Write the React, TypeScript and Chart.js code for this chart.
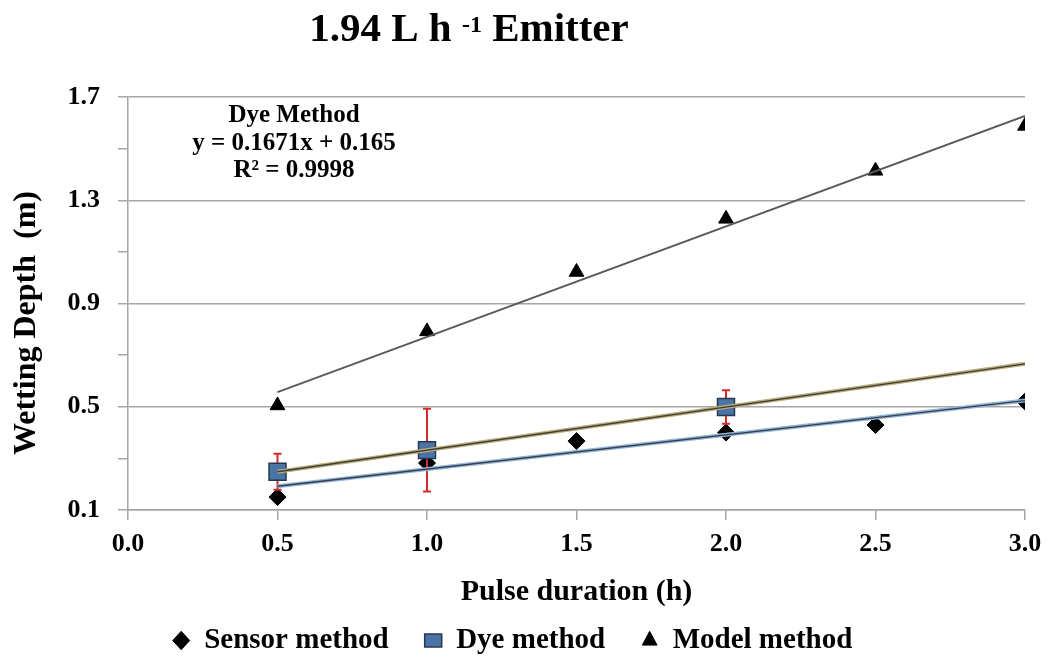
import React, { useEffect, useRef } from "react";
import { Chart, registerables } from "chart.js";

Chart.register(...registerables);

const FONT = "'Liberation Serif', 'Times New Roman', Times, serif";

// ---- Text ----
const titleMain = "1.94 L h ";
const titleSup = "-1";
const titleEnd = " Emitter";
const xAxisTitle = "Pulse duration (h)";
const yAxisTitle = "Wetting Depth  (m)";
const annotationLines = ["Dye Method", "y = 0.1671x + 0.165", "R\u00B2 = 0.9998"];
const legendLabels = ["Sensor method", "Dye method", "Model method"];

// ---- Axes ----
const xMin = 0;
const xMax = 3.0;
const xStep = 0.5;
const yMin = 0.1;
const yMax = 1.7;
const yMinorStep = 0.1;
const yMajorTicks = [0.1, 0.5, 0.9, 1.3, 1.7];

// ---- Data ----
const pulseHours = [0.5, 1.0, 1.5, 2.0, 2.5, 3.0];
const sensorDepth = [0.15, 0.282, 0.367, 0.4, 0.429, 0.52];
const modelDepth = [0.505, 0.792, 1.022, 1.228, 1.414, 1.588];
const dyeHours = [0.5, 1.0, 2.0];
const dyeDepth = [0.248, 0.332, 0.499];
const dyeError = [0.07, 0.16, 0.065];
const trendEnd = 3.0;

function linReg(xs: number[], ys: number[]) {
  const n = xs.length;
  const mx = xs.reduce((a, b) => a + b, 0) / n;
  const my = ys.reduce((a, b) => a + b, 0) / n;
  let sxy = 0;
  let sxx = 0;
  for (let i = 0; i < n; i++) {
    sxy += (xs[i] - mx) * (ys[i] - my);
    sxx += (xs[i] - mx) * (xs[i] - mx);
  }
  const m = sxy / sxx;
  return { m, b: my - m * mx };
}

function trendPoints(xs: number[], ys: number[]) {
  const { m, b } = linReg(xs, ys);
  return [
    { x: xs[0], y: m * xs[0] + b },
    { x: trendEnd, y: m * trendEnd + b },
  ];
}

const DYE_INDEX = 1;

const errorBarPlugin = {
  id: "errorBars",
  beforeDatasetDraw(chart: any, args: any) {
    if (args.index !== DYE_INDEX) return;
    const { ctx } = chart;
    const x = chart.scales.x;
    const y = chart.scales.y;
    ctx.save();
    ctx.strokeStyle = "#d42a2a";
    ctx.lineWidth = 2;
    dyeHours.forEach((h, i) => {
      const px = x.getPixelForValue(h);
      const top = y.getPixelForValue(dyeDepth[i] + dyeError[i]);
      const bot = y.getPixelForValue(dyeDepth[i] - dyeError[i]);
      ctx.beginPath();
      ctx.moveTo(px, top);
      ctx.lineTo(px, bot);
      ctx.moveTo(px - 4, top);
      ctx.lineTo(px + 4, top);
      ctx.moveTo(px - 4, bot);
      ctx.lineTo(px + 4, bot);
      ctx.stroke();
    });
    ctx.restore();
  },
};

const textPlugin = {
  id: "texts",
  afterDraw(chart: any) {
    const { ctx } = chart;
    ctx.save();
    ctx.fillStyle = "#000";
    ctx.textBaseline = "alphabetic";
    ctx.textAlign = "left";
    // title with superscript
    const big = `bold 41px ${FONT}`;
    const small = `bold 24px ${FONT}`;
    ctx.font = big;
    const w1 = ctx.measureText(titleMain).width;
    const w3 = ctx.measureText(titleEnd).width;
    ctx.font = small;
    const w2 = ctx.measureText(titleSup).width;
    let sx = 469 - (w1 + w2 + w3) / 2;
    ctx.font = big;
    ctx.fillText(titleMain, sx, 41);
    sx += w1;
    ctx.font = small;
    ctx.fillText(titleSup, sx, 32);
    sx += w2;
    ctx.font = big;
    ctx.fillText(titleEnd, sx, 41);
    // annotation
    ctx.font = `bold 25px ${FONT}`;
    ctx.textAlign = "center";
    const baselines = [122, 149.5, 177];
    annotationLines.forEach((t, i) => ctx.fillText(t, 294, baselines[i]));
    // y axis title
    ctx.font = `bold 32px ${FONT}`;
    ctx.textBaseline = "middle";
    ctx.translate(27, 323);
    ctx.rotate(-Math.PI / 2);
    ctx.fillText(yAxisTitle, 0, 0);
    ctx.restore();
  },
};

const GRID = "#a6a6a6";

export default function App() {
  const canvasRef = useRef<HTMLCanvasElement | null>(null);

  useEffect(() => {
    if (!canvasRef.current) return;
    const sensorTrend = trendPoints(pulseHours, sensorDepth);
    const dyeTrend = trendPoints(dyeHours, dyeDepth);
    const modelTrend = trendPoints(pulseHours, modelDepth);

    const chart = new Chart(canvasRef.current, {
      type: "scatter",
      data: {
        datasets: [
          {
            label: legendLabels[0],
            data: pulseHours.map((x, i) => ({ x, y: sensorDepth[i] })),
            pointStyle: "rectRot",
            pointRadius: 8.5,
            backgroundColor: "#000",
            borderColor: "#000",
            borderWidth: 1,
            order: 6,
          },
          {
            label: legendLabels[1],
            data: dyeHours.map((x, i) => ({ x, y: dyeDepth[i] })),
            pointStyle: "rect",
            pointRadius: 12,
            backgroundColor: "#4a73a6",
            borderColor: "#26384f",
            borderWidth: 1.5,
            order: 5,
          },
          {
            label: legendLabels[2],
            data: pulseHours.map((x, i) => ({ x, y: modelDepth[i] })),
            pointStyle: "triangle",
            pointRadius: 8.5,
            backgroundColor: "#000",
            borderColor: "#000",
            borderWidth: 1,
            order: 7,
          },
          {
            label: "",
            data: modelTrend,
            showLine: true,
            pointRadius: 0,
            borderColor: "#5a5a5a",
            borderWidth: 2,
            order: 4,
          },
          {
            label: "",
            data: sensorTrend,
            showLine: true,
            pointRadius: 0,
            borderColor: "#8db6e3",
            borderWidth: 4,
            order: 3,
          },
          {
            label: "",
            data: sensorTrend,
            showLine: true,
            pointRadius: 0,
            borderColor: "#3c3c3c",
            borderWidth: 1.3,
            order: 2,
          },
          {
            label: "",
            data: dyeTrend,
            showLine: true,
            pointRadius: 0,
            borderColor: "#bcad78",
            borderWidth: 4,
            order: 1,
          },
          {
            label: "",
            data: dyeTrend,
            showLine: true,
            pointRadius: 0,
            borderColor: "#3c3c3c",
            borderWidth: 1.3,
            order: 0,
          },
        ],
      },
      options: {
        animation: false,
        responsive: true,
        maintainAspectRatio: false,
        events: [],
        layout: { padding: { top: 97, left: 0, right: 27, bottom: -3 } },
        scales: {
          x: {
            type: "linear",
            min: xMin,
            max: xMax,
            afterFit: (s: any) => {
              s.height = 80;
            },
            ticks: {
              stepSize: xStep,
              padding: 9,
              color: "#000",
              font: { family: FONT, size: 26, weight: "bold" },
              callback: (v: any) => Number(v).toFixed(1),
            },
            grid: {
              drawOnChartArea: false,
              drawTicks: true,
              tickLength: 10,
              color: GRID,
              tickColor: GRID,
              lineWidth: 1.5,
            },
            border: { display: true, color: GRID, width: 1.5 },
            title: {
              display: true,
              text: xAxisTitle,
              color: "#000",
              font: { family: FONT, size: 30, weight: "bold" },
              padding: { top: 0, bottom: -20 },
            },
          },
          y: {
            type: "linear",
            min: yMin,
            max: yMax,
            afterFit: (s: any) => {
              s.width = 128;
            },
            ticks: {
              stepSize: yMinorStep,
              padding: 18,
              color: "#000",
              font: { family: FONT, size: 26, weight: "bold" },
              callback: (v: any) => {
                const n = Number(v);
                return yMajorTicks.some((t) => Math.abs(t - n) < 1e-6) ? n.toFixed(1) : "";
              },
            },
            grid: {
              drawTicks: true,
              tickLength: 10,
              color: (c: any) => {
                const n = c.tick ? c.tick.value : 0;
                return yMajorTicks.some((t) => Math.abs(t - n) < 1e-6) ? GRID : "rgba(0,0,0,0)";
              },
              tickColor: GRID,
              lineWidth: 1.5,
            },
            border: { display: true, color: GRID, width: 1.5 },
            title: { display: false },
          },
        },
        plugins: {
          title: { display: false },
          tooltip: { enabled: false },
          legend: {
            display: true,
            position: "bottom",
            labels: {
              usePointStyle: true,
              pointStyleWidth: 17,
              boxHeight: 13,
              padding: 36,
              color: "#000",
              font: { family: FONT, size: 29, weight: "bold" },
              filter: (item: any) => legendLabels.includes(item.text),
              sort: (a: any, b: any) => a.datasetIndex - b.datasetIndex,
            },
          },
        },
      },
      plugins: [errorBarPlugin, textPlugin],
    } as any);
    return () => chart.destroy();
  }, []);

  return (
    <div style={{ position: "fixed", left: 0, top: 0, width: 1052, height: 662, background: "#fff" }}>
      <canvas ref={canvasRef} />
    </div>
  );
}
